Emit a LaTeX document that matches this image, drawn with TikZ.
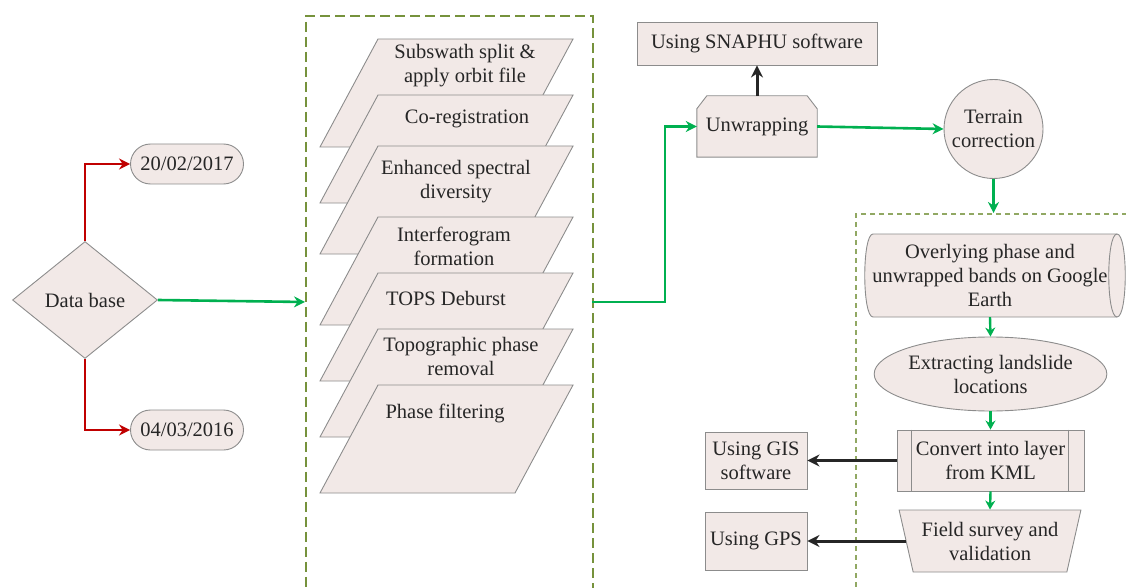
\documentclass[tikz,border=0pt]{standalone}
\usepackage{fontspec}
\setmainfont{Liberation Serif}
\usetikzlibrary{shapes.geometric,shapes.misc,arrows.meta,backgrounds}
\definecolor{shfill}{RGB}{242,233,231}
\definecolor{shdraw}{RGB}{140,140,140}
\definecolor{arrgreen}{RGB}{0,176,80}
\definecolor{arrred}{RGB}{192,0,0}
\definecolor{olivebox}{RGB}{118,146,60}
\begin{document}
\begin{tikzpicture}[x=1pt,y=-1pt,
  font=\fontsize{20.5}{24}\selectfont,
  shp/.style={fill=shfill,draw=shdraw,line width=0.9pt},
  txt/.style={align=center,inner sep=0pt,text=black!85},
  garr/.style={draw=arrgreen,line width=2.6pt,-{Stealth[length=11pt,width=11pt]}},
  gsm/.style={draw=arrgreen,line width=2.4pt,-{Stealth[length=9pt,width=10pt]}},
  rarr/.style={draw=arrred,line width=2.6pt,-{Stealth[length=11pt,width=11pt]}},
  karr/.style={draw=black!85,line width=3pt,-{Stealth[length=12pt,width=12pt]}},
  grpA/.style={draw=olivebox,line width=1.6pt,dash pattern=on 10pt off 5pt},
  grpB/.style={draw=olivebox!80,line width=2.2pt,dash pattern=on 5pt off 4pt},
]
\useasboundingbox (0,0) rectangle (1126,588);

% group boxes
\node[grpA,minimum width=287pt,minimum height=620pt,inner sep=0pt,anchor=north west] (grp1) at (305,15) {};
\node[grpB,minimum width=300pt,minimum height=400pt,inner sep=0pt,anchor=north west] (grp2) at (855,213) {};

% database
\node[diamond,shp,minimum width=145pt,minimum height=117pt,inner sep=0pt,txt] (db) at (85,300) {Data base};
\node[rounded rectangle,shp,minimum width=113pt,minimum height=40pt,inner sep=0pt,txt] (d1) at (187,164) {20/02/2017};
\node[rounded rectangle,shp,minimum width=113pt,minimum height=40pt,inner sep=0pt,txt] (d2) at (187,430) {04/03/2016};
\draw[rarr] (db.north) |- (d1.west);
\draw[rarr] (db.south) |- (d2.west);

% stacked parallelograms
\def\para#1{\draw[shp] (320,#1+108) -- (378,#1) -- (573,#1) -- (515,#1+108) -- cycle;}
\para{39}
\node[txt] (p1) at (465,66) {Subswath split \&\\apply orbit file};
\para{95}
\node[txt] (p2) at (467,119) {Co-registration};
\para{146}
\node[txt] (p3) at (456,182) {Enhanced spectral\\diversity};
\para{217}
\node[txt] (p4) at (454,246) {Interferogram\\formation};
\para{273}
\node[txt] (p5) at (446,298) {TOPS Deburst};
\para{329}
\node[txt] (p6) at (461,356) {Topographic phase\\removal};
\para{385}
\node[txt] (p7) at (445,413) {Phase filtering};

\coordinate (g1in) at (305,302);
\coordinate (g1out) at (592,302);
\draw[garr] (db.east) -- (g1in);

% unwrapping
\node[txt,minimum width=120pt,minimum height=61pt] (unw) at (757,126.5) {Unwrapping};
\begin{scope}[on background layer]
\draw[shp] (unw.south west) -- ([yshift=-13pt]unw.north west) -- ([xshift=10pt]unw.north west) -- ([xshift=-10pt]unw.north east) -- ([yshift=-13pt]unw.north east) -- (unw.south east) -- cycle;
\end{scope}
\node[rectangle,shp,minimum width=240pt,minimum height=43pt,inner sep=0pt,txt] (snap) at (757,43.5) {Using SNAPHU software};
\node[circle,shp,minimum size=99pt,inner sep=0pt,txt] (terr) at (993.5,129) {Terrain\\correction};
\draw[garr] (g1out) -- (665,302) |- (unw.west);
\draw[karr] (unw.north) -- (snap.south);
\draw[garr] (unw.east) -- (terr.west);
\coordinate (g2in) at (993.5,213);
\draw[garr] (terr.south) -- (g2in);

% right column
\node[txt,minimum width=260pt,minimum height=83pt] (cyl) at (990,275.5) {Overlying phase and\\unwrapped bands on Google\\Earth};
\begin{scope}[on background layer]
\draw[shp] (873,234) -- (1117,234) .. controls (1128,234) and (1128,317) .. (1117,317) -- (873,317) .. controls (862,317) and (862,234) .. (873,234) -- cycle;
\draw[shdraw,line width=0.9pt] (1117,234) .. controls (1106,234) and (1106,317) .. (1117,317);
\end{scope}
\node[ellipse,shp,minimum width=225pt,minimum height=74pt,inner sep=0pt,txt] (ext) at (990.5,374) {Extracting landslide\\locations};
\node[rectangle,shp,minimum width=187pt,minimum height=61pt,inner sep=0pt,txt] (kml) at (990.5,460.5) {Convert into layer\\from KML};
\draw[shdraw,line width=0.9pt] ([xshift=15pt]kml.north west) -- ([xshift=15pt]kml.south west);
\draw[shdraw,line width=0.9pt] ([xshift=-16pt]kml.north east) -- ([xshift=-16pt]kml.south east);
\node[trapezium,trapezium left angle=72,trapezium right angle=72,shape border rotate=180,trapezium stretches=true,shp,minimum width=182pt,minimum height=62pt,inner sep=0pt,txt] (fs) at (990,541) {Field survey and\\validation};
\node[rectangle,shp,minimum width=102pt,minimum height=57pt,inner sep=0pt,txt] (gis) at (756,460.5) {Using GIS\\software};
\node[rectangle,shp,minimum width=102pt,minimum height=58pt,inner sep=0pt,txt] (gps) at (756,541) {Using GPS};

\draw[gsm] (cyl.south) -- (ext.north);
\draw[gsm] (ext.south) -- (kml.north);
\draw[gsm] (kml.south) -- (fs.north);
\draw[karr] (kml.west) -- (gis.east);
\draw[karr] (fs.west) -- (gps.east);
\end{tikzpicture}
\end{document}
